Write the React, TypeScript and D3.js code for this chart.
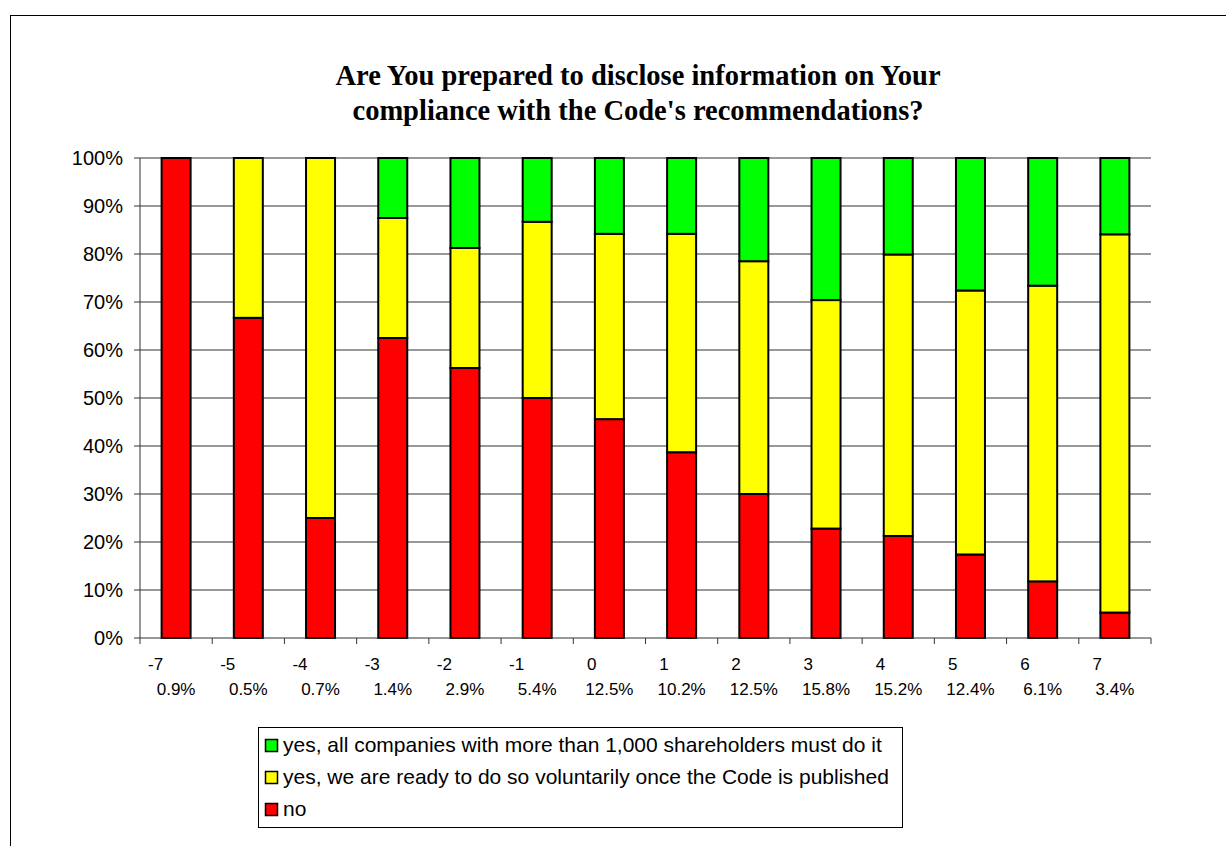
import React from "react";
import * as d3 from "d3";

const categories = ["-7", "-5", "-4", "-3", "-2", "-1", "0", "1", "2", "3", "4", "5", "6", "7"];
const shares = ["0.9%", "0.5%", "0.7%", "1.4%", "2.9%", "5.4%", "12.5%", "10.2%", "12.5%", "15.8%", "15.2%", "12.4%", "6.1%", "3.4%"];
const noValues = [100, 66.7, 25, 62.5, 56.25, 50, 45.6, 38.7, 30, 22.8, 21.25, 17.4, 11.8, 5.3];
const voluntaryValues = [0, 33.3, 75, 25, 25, 36.7, 38.6, 45.5, 48.5, 47.6, 58.65, 55.0, 61.6, 78.8];
const mandatoryValues = [0, 0, 0, 12.5, 18.75, 13.3, 15.8, 15.8, 21.5, 29.6, 20.1, 27.6, 26.6, 15.9];
const yTicks = [0, 10, 20, 30, 40, 50, 60, 70, 80, 90, 100];

const seriesKeys = ["no", "voluntary", "mandatory"];
const seriesColors: Record<string, string> = { no: "#ff0000", voluntary: "#ffff00", mandatory: "#00ff00" };
const legendItems = [
  { key: "mandatory", label: "yes, all companies with more than 1,000 shareholders must do it" },
  { key: "voluntary", label: "yes, we are ready to do so voluntarily once the Code is published" },
  { key: "no", label: "no" },
];
const titleLines = ["Are You prepared to disclose information on Your", "compliance with the Code's recommendations?"];

export default function App() {
  const W = 1226, H = 846;
  const left = 140, right = 1151, top = 158, bottom = 638;
  const xb = d3.scaleBand<string>().domain(categories).range([left, right]);
  const y = d3.scaleLinear().domain([0, 100]).range([bottom, top]);

  const rows = categories.map((c, i) => ({ cat: c, no: noValues[i], voluntary: voluntaryValues[i], mandatory: mandatoryValues[i] }));
  const stacked = d3.stack<any>().keys(seriesKeys)(rows);
  const font = "'Liberation Sans', Arial, sans-serif";
  const bw = xb.bandwidth();
  const barW = 29;

  return (
    <svg width={W} height={H} style={{ position: "absolute", left: 0, top: 0, background: "#fff" }}>
      <rect x={10.5} y={15.5} width={1300} height={900} fill="#fff" stroke="#000" strokeWidth={1} />
      {titleLines.map((t, i) => (
        <text key={i} x={638} y={85 + i * 35} textAnchor="middle"
          fontFamily="'Liberation Serif', 'Times New Roman', serif" fontWeight="bold" fontSize={28.5} fill="#000">{t}</text>
      ))}
      {yTicks.map((t) => (
        <g key={t}>
          {t > 0 && <line x1={left} x2={right} y1={y(t)} y2={y(t)} stroke="#333" strokeWidth={1} />}
          <line x1={left - 6} x2={left} y1={y(t)} y2={y(t)} stroke="#333" strokeWidth={1} />
          <text x={123} y={y(t) + 7} textAnchor="end" fontFamily={font} fontSize={20} fill="#000">{t}%</text>
        </g>
      ))}
      {stacked.map((s) => (
        <g key={s.key}>
          {s.map((d, i) => {
            const h = y(d[0]) - y(d[1]);
            if (h <= 0) return null;
            const cx = (xb(categories[i]) as number) + bw / 2;
            return <rect key={i} x={cx - barW / 2} y={y(d[1])} width={barW} height={h}
              fill={seriesColors[s.key]} stroke="#000" strokeWidth={2} />;
          })}
        </g>
      ))}
      <line x1={left} x2={left} y1={top} y2={bottom} stroke="#333" strokeWidth={1} />
      <line x1={left} x2={right} y1={bottom} y2={bottom} stroke="#333" strokeWidth={1} />
      {categories.concat(["end"]).map((c, i) => {
        const xx = left + i * bw;
        return <line key={i} x1={xx} x2={xx} y1={bottom} y2={bottom + 6} stroke="#333" strokeWidth={1} />;
      })}
      {categories.map((c, i) => {
        const cx = (xb(c) as number) + bw / 2;
        return (
          <g key={c}>
            <text x={cx - 13} y={670} textAnchor="end" fontFamily={font} fontSize={17} fill="#000">{c}</text>
            <text x={cx} y={695} textAnchor="middle" fontFamily={font} fontSize={17} fill="#000">{shares[i]}</text>
          </g>
        );
      })}
      <rect x={258.5} y={727.5} width={644} height={100} fill="#fff" stroke="#000" strokeWidth={1} />
      {legendItems.map((it, i) => (
        <g key={it.key}>
          <rect x={265.5} y={739.5 + i * 32} width={12} height={12} fill={seriesColors[it.key]} stroke="#000" strokeWidth={1.5} />
          <text x={283} y={752 + i * 32} fontFamily={font} fontSize={21} fill="#000">{it.label}</text>
        </g>
      ))}
    </svg>
  );
}
